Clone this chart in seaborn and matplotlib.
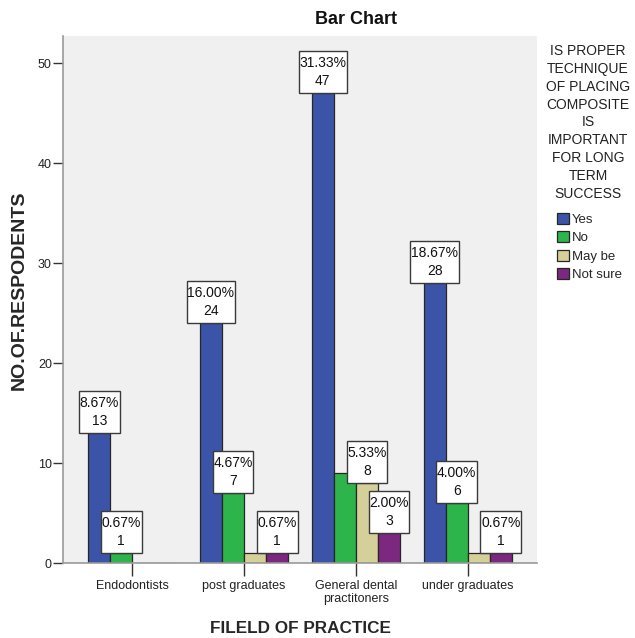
import matplotlib
matplotlib.use("Agg")
import matplotlib.pyplot as plt
import seaborn as sns
import pandas as pd
from matplotlib.patches import Patch
from matplotlib.path import Path

# ---- data ----
fields = ["Endodontists", "post graduates", "General dental\npractitoners", "under graduates"]
answers = ["Yes", "No", "May be", "Not sure"]
yes_counts = [13, 24, 47, 28]
no_counts = [1, 7, 9, 6]
maybe_counts = [0, 1, 8, 1]
notsure_counts = [0, 1, 3, 1]
total_respondents = 150

colors = ["#3B54A8", "#2DB54B", "#D5CF99", "#7C2880"]

series = [yes_counts, no_counts, maybe_counts, notsure_counts]
rows = []
for ans, vals in zip(answers, series):
    for f, v in zip(fields, vals):
        rows.append({"field": f, "answer": ans, "count": v})
df = pd.DataFrame(rows)

sns.set_theme(style="white")
FONT = ["Liberation Sans", "DejaVu Sans"]
plt.rcParams["font.family"] = FONT

fig = plt.figure(figsize=(6.35, 6.38), dpi=100)
ax = fig.add_axes([63/635, 1-563/638, (537-63)/635, (563-36)/638])
ax.set_facecolor("#F0F0F0")

sns.barplot(data=df, x="field", y="count", hue="answer", order=fields,
            hue_order=answers, palette=colors, saturation=1, width=0.79,
            edgecolor="#262626", linewidth=0.9, ax=ax, legend=False)

ax.set_ylim(0, 52.7)
ax.set_xlim(-0.62, 3.62)
ax.set_yticks([0, 10, 20, 30, 40, 50])
ax.tick_params(axis="y", direction="out", length=7, width=1, color="#333333",
               labelsize=9, pad=1, left=True)
ax.tick_params(axis="x", direction="out", length=9, width=1, color="#333333",
               labelsize=9, pad=3, bottom=True)
for lab in ax.get_xticklabels() + ax.get_yticklabels():
    lab.set_color("#222222")

for s in ["top", "right"]:
    ax.spines[s].set_visible(False)
for s in ["left", "bottom"]:
    ax.spines[s].set_color("#999999")
    ax.spines[s].set_linewidth(1.2)


def label_box(x0, y0, width, height, mutation_size):
    px = 0.05 * mutation_size
    py = 0.36 * mutation_size
    x0 -= px
    y0 -= py
    x1 = x0 + width + 2 * px
    y1 = y0 + height + 2 * py
    return Path([(x0, y0), (x1, y0), (x1, y1), (x0, y1), (x0, y0)], closed=True)


# value labels (SPSS hides labels that collide with one already placed)
fig.canvas.draw()
kept = []
for cont in reversed(ax.containers):
    for p in cont.patches:
        h = p.get_height()
        if h <= 0:
            continue
        x = p.get_x() + p.get_width() / 2
        pct = h / total_respondents * 100
        ann = ax.annotate(f"{pct:.2f}%\n{int(h)}", xy=(x, h), xytext=(0, 3.7),
                          textcoords="offset points", ha="center", va="bottom",
                          fontsize=10, linespacing=1.38, color="#111111",
                          bbox=dict(boxstyle=label_box, fc="white",
                                    ec="#3a3a3a", lw=1.0),
                          zorder=5)
        fig.canvas.draw()
        bb = ann.get_bbox_patch().get_window_extent()
        if any(bb.overlaps(k) for k in kept):
            ann.remove()
        else:
            kept.append(bb)

ax.set_xlabel("FILELD OF PRACTICE", fontsize=12.3, fontweight="bold", labelpad=11)
ax.set_ylabel("NO.OF.RESPODENTS", fontsize=14, fontweight="bold")
ax.yaxis.set_label_coords((28 - 63) / 474, (563 - 290) / 527)
fig.text(356/635, 1-19.5/638, "Bar Chart", fontsize=13, fontweight="bold",
         ha="center", va="center", color="#111111")

fig.text(588/635, 1-44/638,
         "IS PROPER\nTECHNIQUE\nOF PLACING\nCOMPOSITE\nIS\nIMPORTANT\nFOR LONG\nTERM\nSUCCESS",
         ha="center", va="top", fontsize=10, linespacing=1.35, color="#222222")

handles = [Patch(facecolor=c, edgecolor="#262626", linewidth=0.9) for c in colors]
fig.legend(handles, answers, loc="upper left", bbox_to_anchor=(557/635, 1-213/638),
           frameon=False, fontsize=9.5, handlelength=0.9, handleheight=0.9,
           handletextpad=0.2, labelspacing=0.4, borderaxespad=0, borderpad=0)

fig.savefig("out.png", dpi=100)
